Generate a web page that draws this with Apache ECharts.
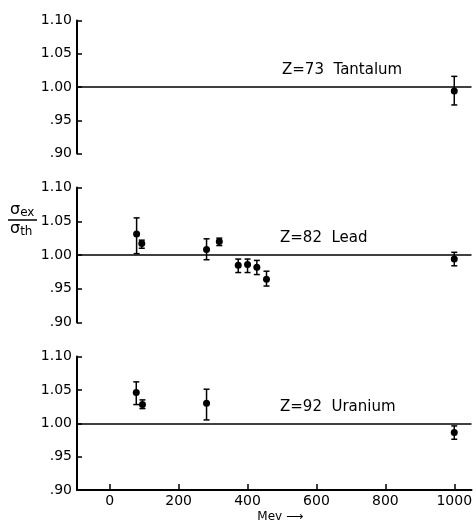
<!DOCTYPE html>
<html>
<head>
<meta charset="utf-8">
<script src="https://cdn.jsdelivr.net/npm/echarts@6/dist/echarts.min.js"></script>
<style>
html,body{margin:0;padding:0;background:#fff;}
#chart{width:474px;height:523px;}
</style>
</head>
<body>
<div id="chart"></div>
<script>
// MeV, value, low, high
var taMev = [1000];
var taVal = [0.994];
var taLow = [0.973];
var taHigh = [1.016];

var pbMev = [78, 93, 281, 318, 373, 400, 427, 455, 1000];
var pbVal = [1.031, 1.017, 1.008, 1.020, 0.985, 0.986, 0.982, 0.964, 0.994];
var pbLow = [1.002, 1.010, 0.993, 1.014, 0.974, 0.974, 0.971, 0.954, 0.984];
var pbHigh = [1.055, 1.022, 1.024, 1.025, 0.994, 0.994, 0.992, 0.976, 1.004];

var uMev = [77, 95, 281, 1000];
var uVal = [1.046, 1.028, 1.030, 0.986];
var uLow = [1.028, 1.022, 1.005, 0.976];
var uHigh = [1.062, 1.035, 1.051, 0.996];

var xTicks = [0, 200, 400, 600, 800, 1000];
var panelNames = ['Z=73  Tantalum', 'Z=82  Lead', 'Z=92  Uranium'];

var fontName = 'DejaVu Sans';
var chart = echarts.init(document.getElementById('chart'));

// outerBoundsMode none so the grids are not squeezed to fit the axis name
var grids = [
    {left: 77, top: 20.5, width: 394.5, height: 133, outerBoundsMode: 'none'},
    {left: 77, top: 187.5, width: 394.5, height: 135, outerBoundsMode: 'none'},
    {left: 77, top: 356.5, width: 394.5, height: 133.5, outerBoundsMode: 'none'}
];

function pts(mev, val) {
    var d = [];
    for (var i = 0; i < mev.length; i++) d.push([mev[i], val[i]]);
    return d;
}
function bars(mev, low, high) {
    var d = [];
    for (var i = 0; i < mev.length; i++) d.push([mev[i], low[i], high[i]]);
    return d;
}

function errRender(params, api) {
    var lo = api.coord([api.value(0), api.value(1)]);
    var hi = api.coord([api.value(0), api.value(2)]);
    var w = 3;
    var st = {stroke: '#000', lineWidth: 1.5};
    return {
        type: 'group',
        children: [
            {type: 'line', shape: {x1: lo[0], y1: lo[1], x2: hi[0], y2: hi[1]}, style: st},
            {type: 'line', shape: {x1: lo[0] - w, y1: lo[1], x2: lo[0] + w, y2: lo[1]}, style: st},
            {type: 'line', shape: {x1: hi[0] - w, y1: hi[1], x2: hi[0] + w, y2: hi[1]}, style: st}
        ]
    };
}

var xAxes = [], yAxes = [], series = [];
var sets = [[taMev, taVal, taLow, taHigh], [pbMev, pbVal, pbLow, pbHigh], [uMev, uVal, uLow, uHigh]];

for (var g = 0; g < 3; g++) {
    var last = g === 2;
    xAxes.push({
        type: 'value', gridIndex: g, min: -95, max: 1050,
        splitLine: {show: false},
        axisLine: {show: last, onZero: false, lineStyle: {color: '#000', width: 2}},
        axisTick: {show: last, inside: true, length: 6, customValues: xTicks, lineStyle: {color: '#000', width: 1.5}},
        axisLabel: {
            show: last, customValues: xTicks, color: '#000', fontFamily: fontName, fontSize: 14, margin: 4,
            formatter: function (v) { return String(v); }
        },
        name: last ? 'Mev \u27F6' : '',
        nameLocation: 'middle', nameGap: 21,
        nameTextStyle: {color: '#000', fontFamily: fontName, fontSize: 12, padding: [0, 0, 0, 12]}
    });
    yAxes.push({
        type: 'value', gridIndex: g, min: 0.9, max: 1.1, interval: 0.05,
        splitLine: {show: false},
        axisLine: {show: true, onZero: false, lineStyle: {color: '#000', width: 2}},
        axisTick: {show: true, inside: true, length: 5, lineStyle: {color: '#000', width: 1.5}},
        axisLabel: {
            color: '#000', fontFamily: fontName, fontSize: 14, margin: 5,
            formatter: function (v) {
                var s = v.toFixed(2);
                return v < 1 ? s.replace(/^0/, '') : s;
            }
        }
    });
    var s = sets[g];
    series.push({
        type: 'custom', xAxisIndex: g, yAxisIndex: g,
        renderItem: errRender, data: bars(s[0], s[2], s[3]), z: 3
    });
    series.push({
        type: 'scatter', xAxisIndex: g, yAxisIndex: g,
        symbol: 'circle', symbolSize: 7,
        itemStyle: {color: '#000', opacity: 1},
        data: pts(s[0], s[1]), z: 4,
        markLine: {
            silent: true, symbol: 'none', label: {show: false},
            lineStyle: {color: '#000', width: 1.5, type: 'solid'},
            data: [{yAxis: 1}]
        }
    });
}

var option = {
    animation: false,
    backgroundColor: '#fff',
    grid: grids,
    xAxis: xAxes,
    yAxis: yAxes,
    series: series,
    graphic: [
        {type: 'text', left: 282, top: 63, style: {text: panelNames[0], fill: '#000', font: '15px ' + fontName}},
        {type: 'text', left: 280, top: 231, style: {text: panelNames[1], fill: '#000', font: '15px ' + fontName}},
        {type: 'text', left: 280, top: 400, style: {text: panelNames[2], fill: '#000', font: '15px ' + fontName}},
        // sigma_ex / sigma_th
        {type: 'text', left: 10, top: 202, style: {
            text: '{s|\u03C3}{b|ex}', fill: '#000',
            rich: {s: {fontSize: 16, fontFamily: fontName}, b: {fontSize: 12, fontFamily: fontName, padding: [6, 0, 0, 0]}}
        }},
        {type: 'line', shape: {x1: 8, y1: 220, x2: 37, y2: 220}, style: {stroke: '#000', lineWidth: 1.5}},
        {type: 'text', left: 10, top: 221, style: {
            text: '{s|\u03C3}{b|th}', fill: '#000',
            rich: {s: {fontSize: 16, fontFamily: fontName}, b: {fontSize: 12, fontFamily: fontName, padding: [6, 0, 0, 0]}}
        }}
    ]
};
chart.setOption(option);
</script>
</body>
</html>
